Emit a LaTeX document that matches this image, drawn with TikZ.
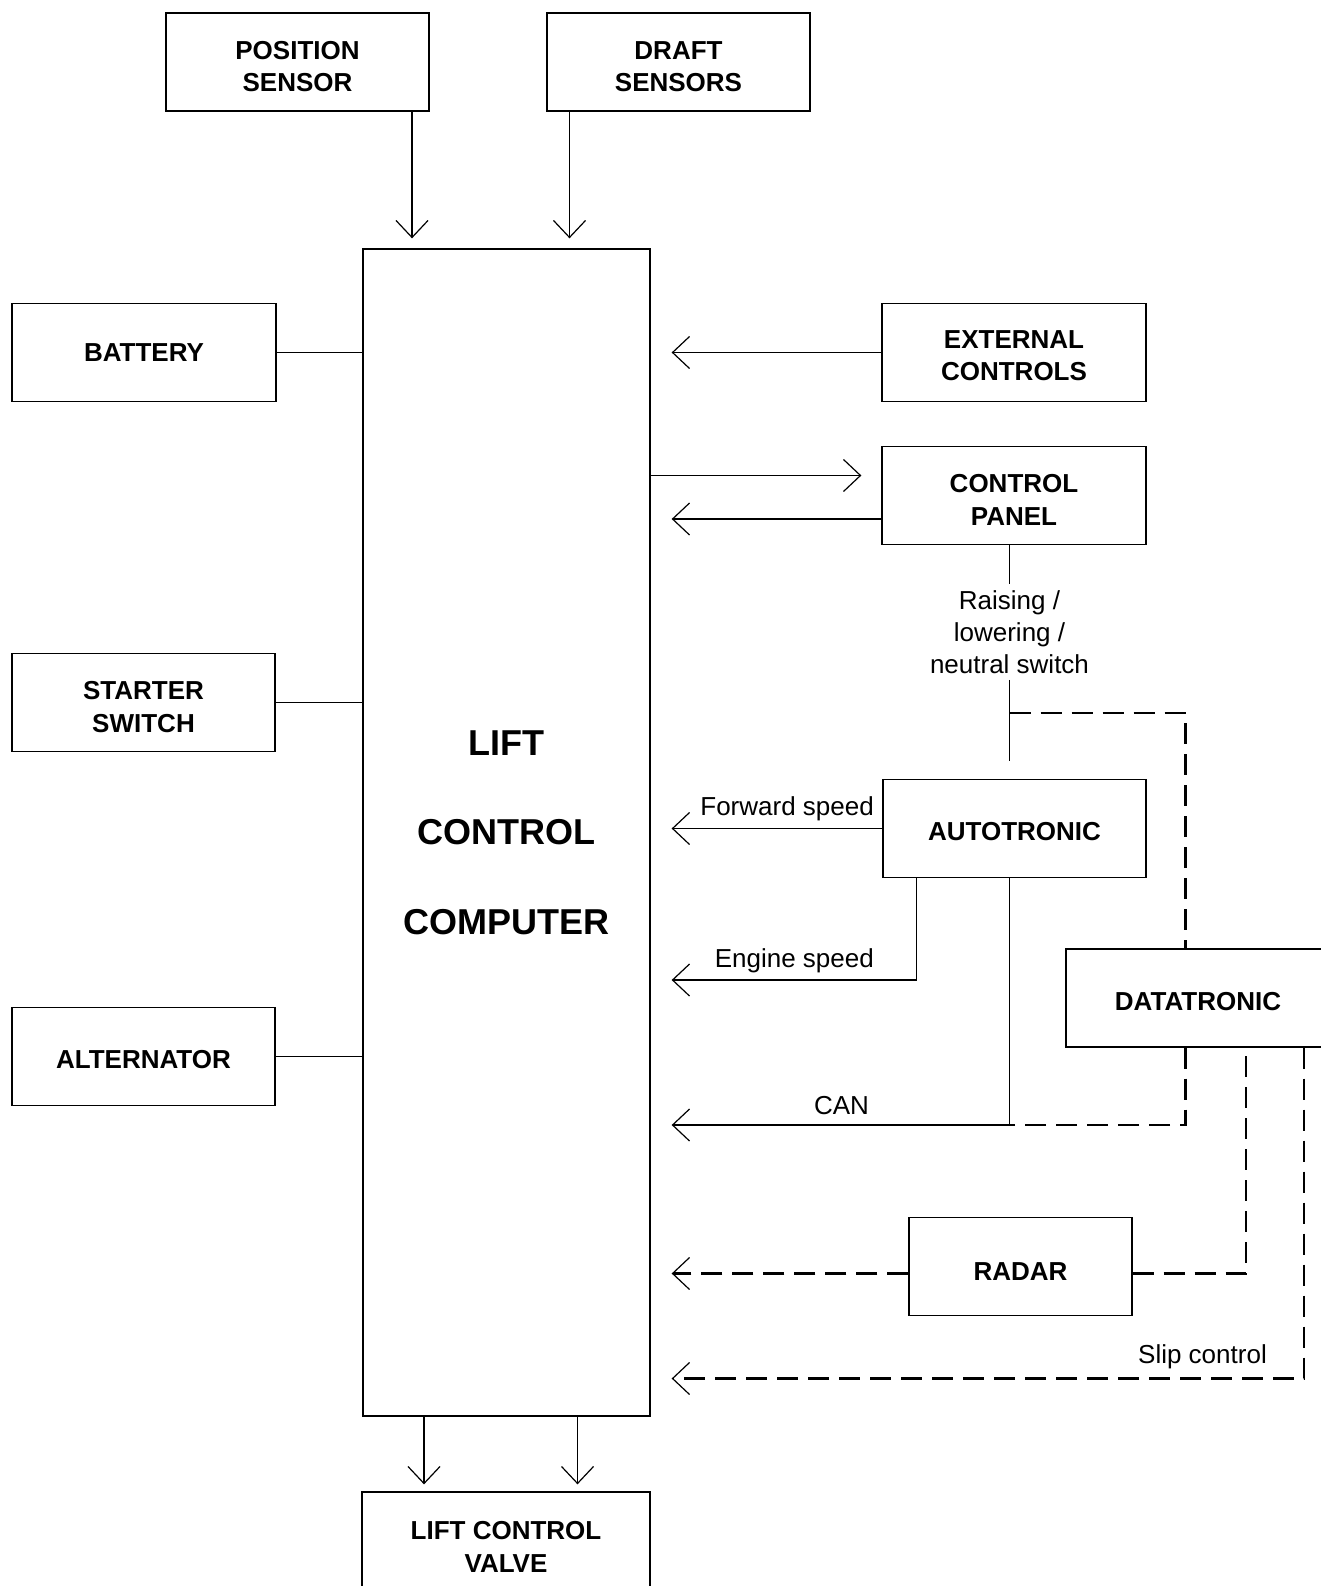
\documentclass[tikz,border=0pt]{standalone}
\usepackage{fontspec}
\setmainfont{Liberation Sans}
\usetikzlibrary{arrows.meta,calc}
\begin{document}
\begin{tikzpicture}[x=1pt,y=-1pt,
  >={Straight Barb[length=17pt,width=32pt,line width=1.2pt]},
  blk/.style={draw, line width=1.3pt, minimum width=263pt, minimum height=98pt, align=center, inner sep=0pt, font=\fontsize{26}{32.5}\selectfont\bfseries},
  lbl/.style={inner sep=0pt, align=center, font=\fontsize{26}{32}\selectfont},
  wire/.style={line width=1.2pt},
  dwire/.style={line width=2.6pt, dash pattern=on 21pt off 10pt}]
\clip (0,0) rectangle (1321,1586);

\node[blk] (pos) at (297.5,62) {\rule{0pt}{27pt}POSITION\\SENSOR};
\node[blk] (draft) at (678.5,62) {\rule{0pt}{27pt}DRAFT\\SENSORS};
\node[blk, minimum width=287pt, minimum height=1167pt, font=\fontsize{36}{89.5}\selectfont\bfseries] (lcc) at (506.5,832.5)
{LIFT\\CONTROL\\COMPUTER};

\node[blk, minimum width=264pt] (bat) at (144,352.5) {BATTERY};
\node[blk] (start) at (143.5,702.5) {\rule{0pt}{27pt}STARTER\\SWITCH};
\node[blk] (alt) at (143.5,1056.5) {\rule{0pt}{24pt}ALTERNATOR};

\node[blk, minimum width=264pt] (ext) at (1014,352.5) {\rule{0pt}{24pt}EXTERNAL\\CONTROLS};
\node[blk, minimum width=264pt] (panel) at (1014,495.5) {\rule{0pt}{27pt}CONTROL\\PANEL};
\node[blk] (auto) at (1014.5,828.5) {\rule{0pt}{24pt}AUTOTRONIC};
\node[blk, minimum width=264pt] (data) at (1198,998) {\rule{0pt}{26pt}DATATRONIC};
\node[blk, minimum width=223pt] (radar) at (1020.5,1266.5) {\rule{0pt}{28pt}RADAR};
\node[blk, minimum width=288pt, minimum height=100pt] (valve) at (506,1542) {\rule{0pt}{28pt}LIFT CONTROL\\VALVE};

\node[lbl, inner sep=6pt] (rls) at (1009.5,632) {Raising /\\lowering /\\neutral switch};
\coordinate (sw) at (1009.5,761);
\coordinate (br) at (1009.5,713);
\coordinate (pout) at ($(panel.west)+(0,-20)$);
\coordinate (pin) at ($(panel.west)+(0,23.5)$);
\coordinate (rw) at ($(radar.west)+(0,7)$);
\coordinate (re) at ($(radar.east)+(0,7)$);

\node[lbl, anchor=base east] (fs) at (874,815) {Forward speed};
\node[lbl, anchor=base east] (es) at (874,967) {Engine speed};
\node[lbl, anchor=base] (can) at (841.5,1114) {CAN};
\node[lbl, anchor=base east] (slip) at (1267,1363) {Slip control};

\draw[wire,->,shorten >=10pt] ($(pos.south)+(114.5,0)$) -- ($(lcc.north)+(-94.5,0)$);
\draw[wire,->,shorten >=10pt] ($(draft.south)+(-109,0)$) -- ($(lcc.north)+(63,0)$);

\draw[wire] (bat.east) -- (bat.east -| lcc.west);
\draw[wire] (start.east) -- (start.east -| lcc.west);
\draw[wire] (alt.east) -- (alt.east -| lcc.west);

\draw[wire,->,shorten >=21pt] (ext.west) -- (ext.west -| lcc.east);
\draw[wire,->,shorten >=20pt] (pout -| lcc.east) -- (pout);
\draw[wire,->,shorten >=21pt] (pin) -- (pin -| lcc.east);

\draw[wire] (panel.south -| rls) -- (rls);
\draw[wire] (rls) -- (sw);
\draw[dwire] (br) -| ($(data.north)+(-12.5,0)$);

\draw[wire,->,shorten >=21pt] (auto.west) -- (auto.west -| lcc.east);
\draw[wire,->,shorten >=21pt] ($(auto.south)+(-98,0)$) |- ($(lcc.east)+(0,147.5)$);
\draw[wire,->,shorten >=21pt] ($(auto.south)+(-5,0)$) |- ($(lcc.east)+(0,292.5)$);
\draw[dwire] ($(data.south)+(-12.5,0)$) |- ($(auto.south)+(-5,247)$);

\draw[dwire] (re) -| ($(data.south)+(48,0)$);
\draw[dwire,->,shorten >=21pt] (rw) -- (rw -| lcc.east);
\draw[dwire,->,shorten >=21pt] ($(data.south)+(106,0)$) |- ($(lcc.east)+(0,546)$);

\draw[wire,->,shorten >=7pt] ($(lcc.south)+(-82.5,0)$) -- ($(valve.north)+(-82,0)$);
\draw[wire,->,shorten >=7pt] ($(lcc.south)+(71,0)$) -- ($(valve.north)+(71.5,0)$);
\end{tikzpicture}
\end{document}
